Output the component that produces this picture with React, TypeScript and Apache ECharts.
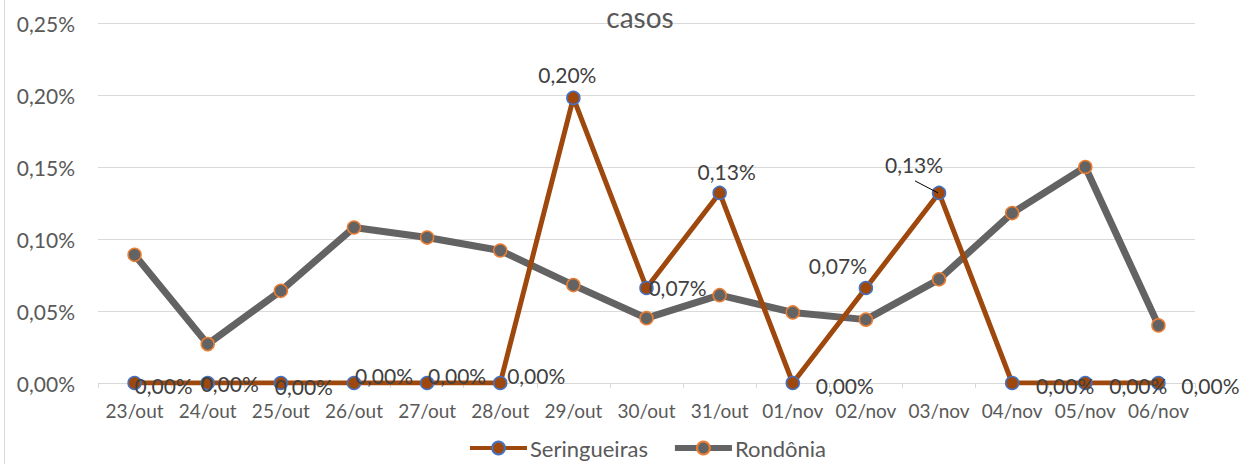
import React, { useEffect, useRef } from "react";
import * as echarts from "echarts";

const categories = [
  "23/out", "24/out", "25/out", "26/out", "27/out", "28/out", "29/out", "30/out",
  "31/out", "01/nov", "02/nov", "03/nov", "04/nov", "05/nov", "06/nov",
];
// values in percent
const seringueiras = [0, 0, 0, 0, 0, 0, 0.198, 0.066, 0.132, 0, 0.066, 0.132, 0, 0, 0];
const rondonia = [0.089, 0.027, 0.064, 0.108, 0.101, 0.092, 0.068, 0.045, 0.061, 0.049, 0.044, 0.072, 0.118, 0.15, 0.04];
const seriesNames = ["Seringueiras", "Rondônia"];
const titleText = "casos";

// label placement (offset from point) for Seringueiras labels
const labelOffsets: number[][] = [
  [29, 2], [22, 0], [23, 3], [30, -8], [30, -8], [36, -8], [-6, -23], [31, 0],
  [7, -21], [52, 2], [-28, -22], [-25, -28], [53, 2], [53, 2], [52, 2],
];
const leaderIndex = 11;

const FONT = "Lato";
const fmt = (v: number) => v.toFixed(2).replace(".", ",") + "%";

export default function App() {
  const ref = useRef<HTMLDivElement>(null);
  useEffect(() => {
    if (!ref.current) return;
    const chart = echarts.init(ref.current, null, { renderer: "svg" });
    const serData = seringueiras.map((v, i) => ({
      value: v,
      label: { offset: labelOffsets[i] },
    }));
    chart.setOption({
      animation: false,
      backgroundColor: "#fff",
      title: {
        text: titleText,
        left: 640,
        textAlign: "center",
        top: 3,
        padding: 0,
        textStyle: { fontFamily: FONT, fontSize: 28, fontWeight: "normal", color: "#595959" },
      },
      legend: {
        data: [
          { name: seriesNames[0], lineStyle: { width: 4 } },
          { name: seriesNames[1], lineStyle: { width: 6 } },
        ],
        bottom: 0,
        left: 463,
        itemWidth: 57,
        itemHeight: 16,
        itemGap: 24,
        textStyle: { fontFamily: FONT, fontSize: 22, color: "#595959", padding: [0, 0, 0, -2] },
      },
      grid: { left: 98, right: 55, top: 23, bottom: 81, containLabel: false },
      xAxis: {
        type: "category",
        data: categories,
        boundaryGap: true,
        axisLine: { lineStyle: { color: "#d9d9d9", width: 1 } },
        axisTick: { show: true, length: 5, lineStyle: { color: "#d9d9d9" } },
        axisLabel: { fontFamily: FONT, fontSize: 19, color: "#595959", margin: 18, interval: 0 },
      },
      yAxis: {
        type: "value",
        min: 0,
        max: 0.25,
        interval: 0.05,
        axisLine: { show: false },
        axisTick: { show: false },
        splitLine: { lineStyle: { color: "#d9d9d9", width: 1 } },
        axisLabel: { fontFamily: FONT, fontSize: 21, color: "#595959", margin: 23, formatter: (v: number) => fmt(v) },
      },
      series: [
        {
          name: seriesNames[1],
          type: "line",
          data: rondonia,
          z: 2,
          symbol: "circle",
          symbolSize: 13,
          lineStyle: { color: "#636363", width: 7 },
          itemStyle: { color: "#636363", borderColor: "#ED7D31", borderWidth: 1.5 },
        },
        {
          name: seriesNames[0],
          type: "line",
          data: serData,
          z: 3,
          symbol: "circle",
          symbolSize: 13,
          lineStyle: { color: "#9E480E", width: 5 },
          itemStyle: { color: "#9E480E", borderColor: "#4472C4", borderWidth: 1.5 },
          label: {
            show: true,
            position: "inside",
            fontFamily: FONT,
            fontSize: 21,
            color: "#404040",
            formatter: (p: any) => fmt(p.value),
          },
        },
      ],
    });
    // leader line for the displaced label, anchored to the point through the axes
    const p = chart.convertToPixel({ seriesIndex: 1 }, [leaderIndex, seringueiras[leaderIndex]]) as number[];
    if (p) {
      chart.setOption({
        graphic: [
          {
            type: "line",
            z: 100,
            shape: { x1: p[0] - 24, y1: p[1] - 12, x2: p[0] - 1, y2: p[1] },
            style: { stroke: "#000", lineWidth: 1 },
          },
        ],
      });
    }
    return () => chart.dispose();
  }, []);
  return (
    <div style={{ position: "fixed", left: 0, top: 0, width: 1250, height: 464, background: "#fff" }}>
      <div ref={ref} style={{ position: "absolute", left: 0, top: 0, width: 1250, height: 464 }} />
      <div style={{ position: "absolute", left: 4, top: 0, width: 0, height: 464, borderLeft: "1px solid #d9d9d9" }} />
    </div>
  );
}
